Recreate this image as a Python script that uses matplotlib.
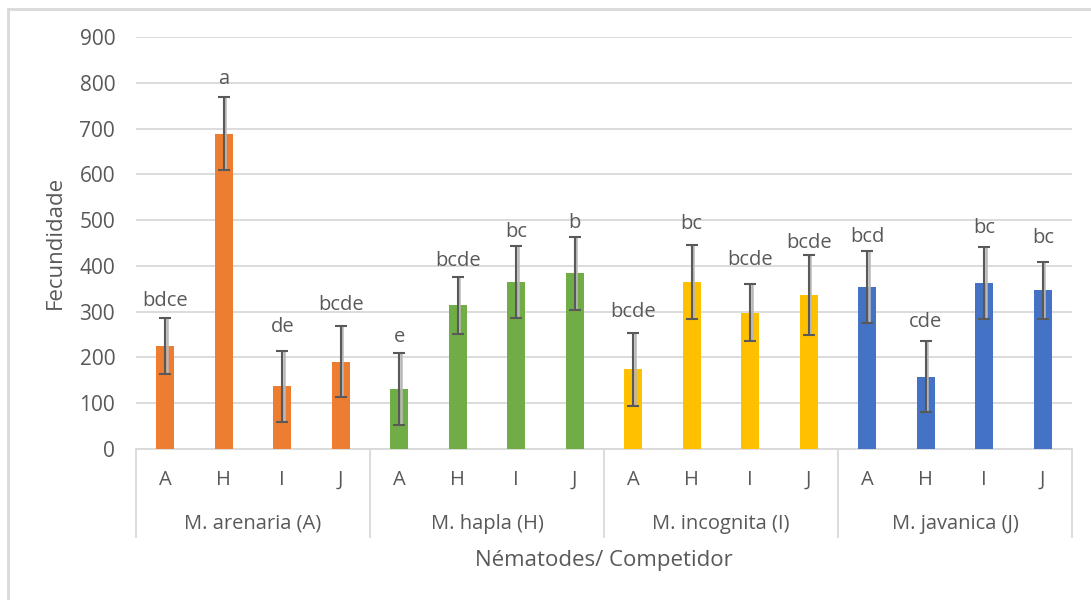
import matplotlib
matplotlib.use('Agg')
import matplotlib.pyplot as plt
import matplotlib.transforms as mtransforms
import numpy as np

# Fecundity per nematode species (group) against each competitor
groups = ["M. arenaria (A)", "M. hapla (H)", "M. incognita (I)", "M. javanica (J)"]
competitors = ["A", "H", "I", "J"]
group_colors = ["#ED7D31", "#70AD47", "#FFC000", "#4472C4"]

arenaria = [225, 689, 137, 191]
hapla = [131, 314, 365, 384]
incognita = [174, 365, 298, 336]
javanica = [354, 158, 363, 347]

arenaria_err = [62, 80, 78, 78]
hapla_err = [79, 62, 78, 80]
incognita_err = [79, 80, 62, 87]
javanica_err = [78, 78, 78, 62]

letters = [
    ["bdce", "a", "de", "bcde"],
    ["e", "bcde", "bc", "b"],
    ["bcde", "bc", "bcde", "bcde"],
    ["bcd", "cde", "bc", "bc"],
]
letter_heights = [
    [324, 808, 267, 314],
    [245, 411, 474, 493],
    [300, 491, 413, 449],
    [464, 278, 482, 460],
]

plt.rcParams['font.family'] = ['Open Sans', 'DejaVu Sans']
text_color = "#595959"
grid_color = "#D9D9D9"

values = [arenaria, hapla, incognita, javanica]
errors = [arenaria_err, hapla_err, incognita_err, javanica_err]

fig = plt.figure(figsize=(10.91, 6.0), dpi=100)
ax = fig.add_axes([136 / 1091, 151 / 600, 936 / 1091, 412 / 600])

n_comp = len(competitors)
for g, (vals, errs, color) in enumerate(zip(values, errors, group_colors)):
    x = np.arange(n_comp) + g * n_comp
    ax.bar(x, vals, width=0.31, color=color, zorder=2)
    # soft shadow behind the error bars
    ax.errorbar(x + 0.025, vals, yerr=errs, fmt='none', ecolor="#B8B8B8",
                elinewidth=1.8, capsize=0, zorder=3)
    ax.errorbar(x, vals, yerr=errs, fmt='none', ecolor=text_color,
                elinewidth=1.5, capsize=4.5, capthick=1.5, zorder=4)
    for xi, lab, ly in zip(x, letters[g], letter_heights[g]):
        ax.text(xi, ly, lab, ha='center', va='center', fontsize=14.5,
                color=text_color, zorder=5)

ax.set_xlim(-0.5, len(groups) * n_comp - 0.5)
ax.set_ylim(0, 900)
ax.set_yticks(np.arange(0, 901, 100))
ax.yaxis.grid(True, color=grid_color, linewidth=1.3, zorder=0)
ax.set_axisbelow(True)
ax.tick_params(axis='y', length=0, labelsize=15, labelcolor=text_color, pad=15)
ax.set_xticks([])
for side in ["top", "right", "left", "bottom"]:
    ax.spines[side].set_visible(False)

# two-level category axis drawn below the plot
trans = mtransforms.blended_transform_factory(ax.transData, ax.transAxes)
x_lo, x_hi = ax.get_xlim()
ax.plot([x_lo, x_hi], [0, 0], transform=trans, color=grid_color, lw=1.3,
        clip_on=False, zorder=1)
for b in np.arange(len(groups) + 1) * n_comp - 0.5:
    ax.plot([b, b], [0, -0.214], transform=trans, color=grid_color, lw=1.3,
            clip_on=False)
for g, name in enumerate(groups):
    for i, c in enumerate(competitors):
        ax.text(g * n_comp + i, -0.075, c, transform=trans, ha='center',
                va='center', fontsize=14.5, color=text_color)
    ax.text(g * n_comp + (n_comp - 1) / 2, -0.182, name, transform=trans,
            ha='center', va='center', fontsize=14.5, color=text_color)

ax.text((x_lo + x_hi) / 2, -0.27, "Nématodes/ Competidor", transform=trans,
        ha='center', va='center', fontsize=16, color=text_color)
fig.text(55 / 1091, 1 - 242 / 600, "Fecundidade", rotation=90, ha='center',
         va='center', fontsize=16, color=text_color)

# chart frame
fig.add_artist(plt.Line2D([8 / 1091, 1], [1 - 9 / 600, 1 - 9 / 600],
                          transform=fig.transFigure, color=grid_color, lw=2))
fig.add_artist(plt.Line2D([8 / 1091, 8 / 1091], [0, 1 - 9 / 600],
                          transform=fig.transFigure, color=grid_color, lw=2))

fig.savefig("out.png", dpi=100)
